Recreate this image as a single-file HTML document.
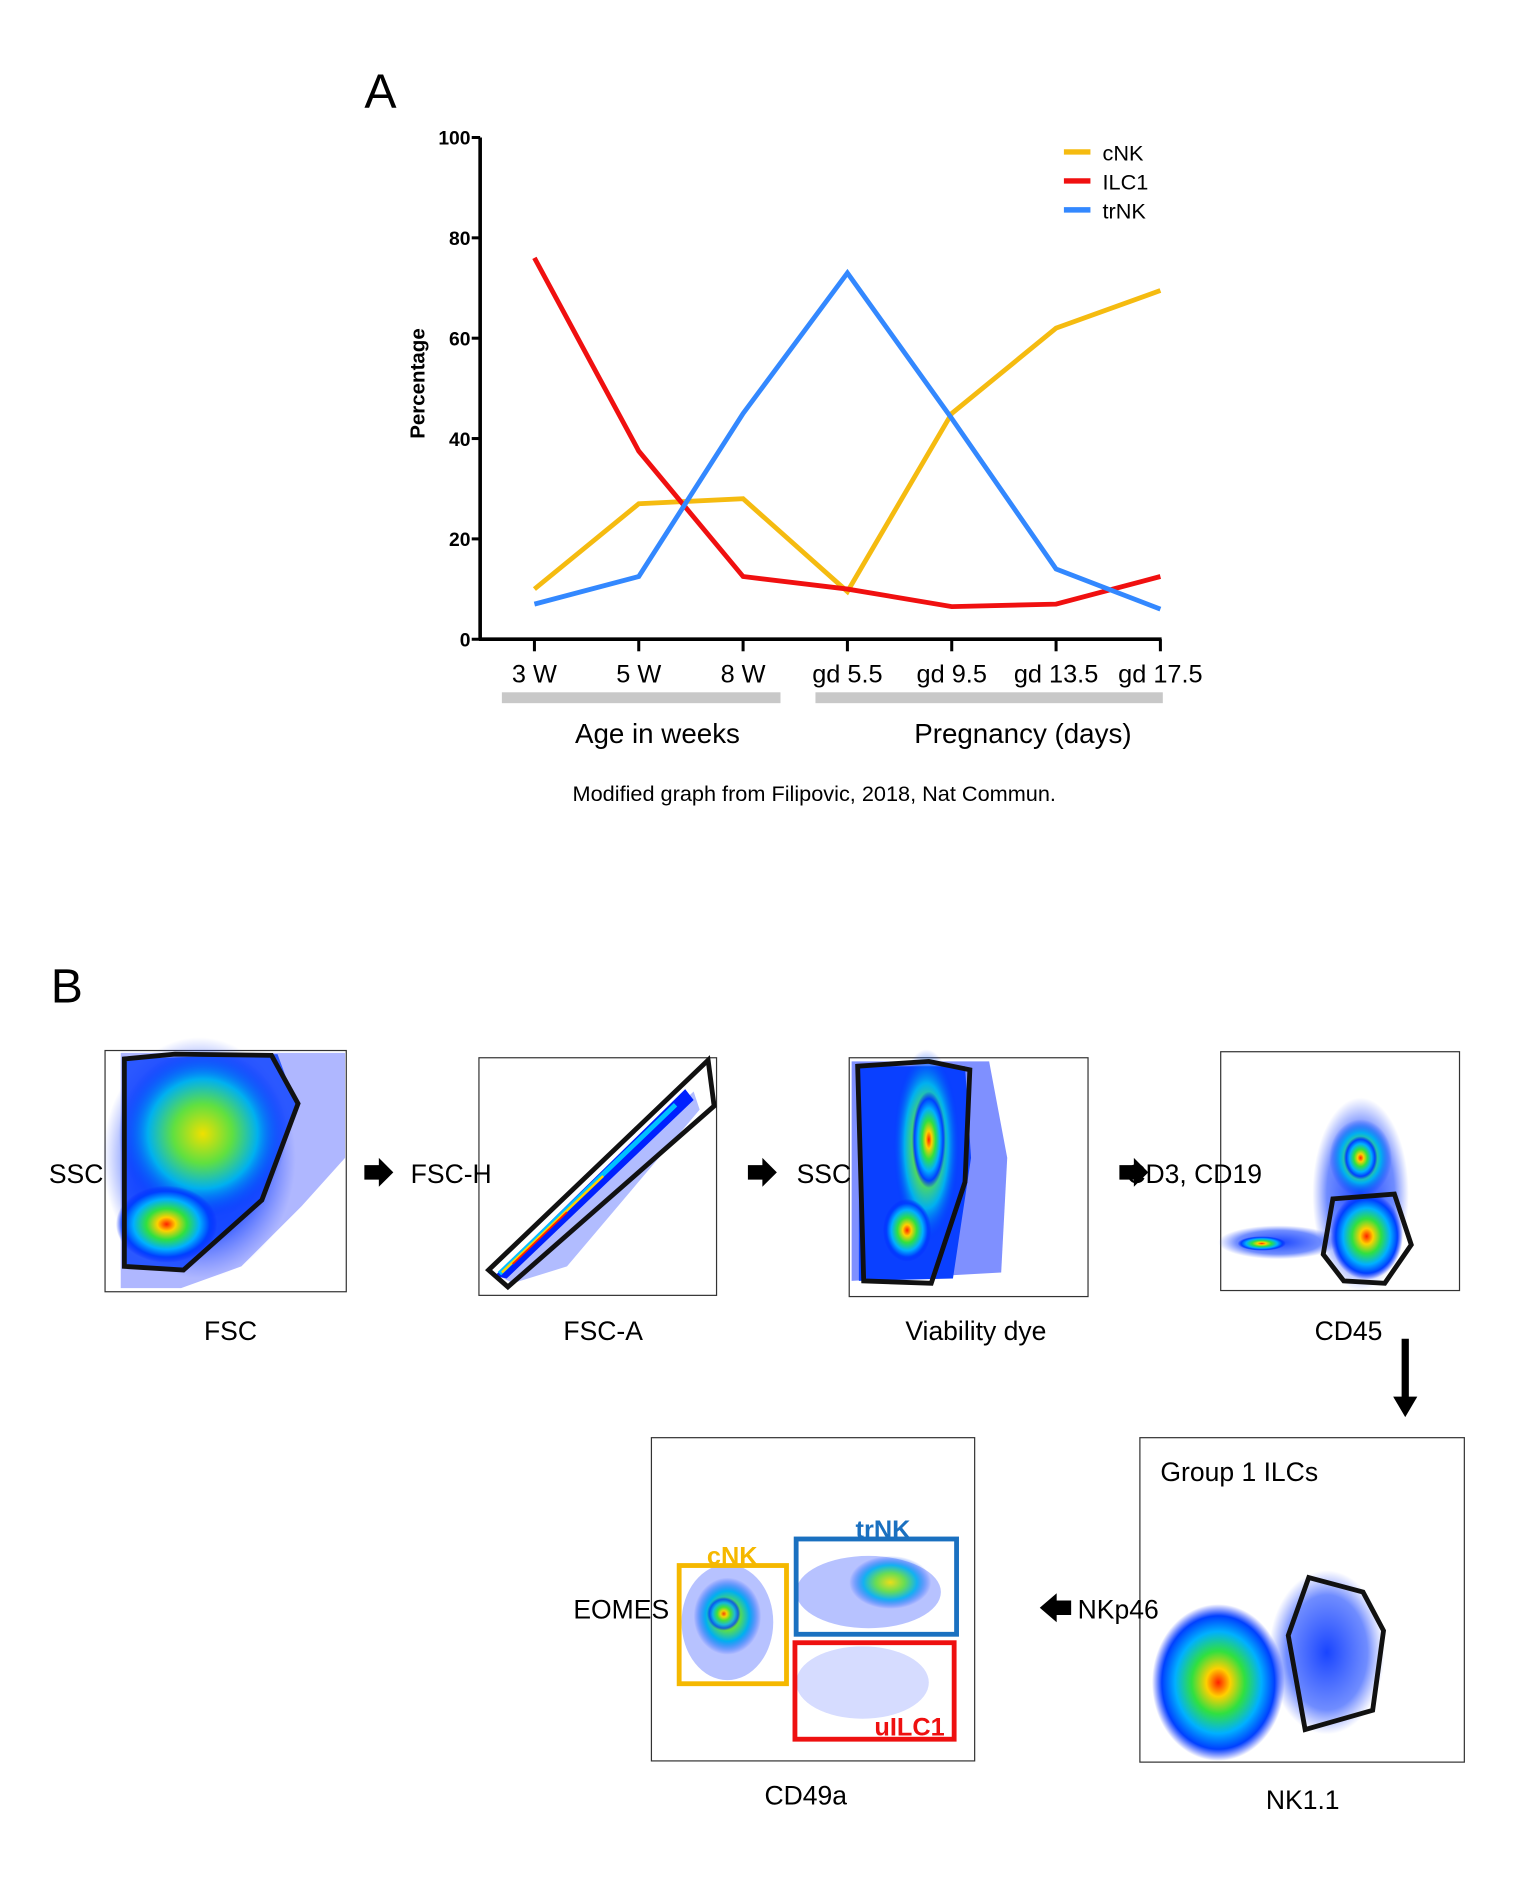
<!DOCTYPE html>
<html><head><meta charset="utf-8"><style>
html,body{margin:0;padding:0;background:#fff}
svg{display:block}
text{font-family:"Liberation Sans",sans-serif}
</style></head><body>
<svg id="fig" width="1532" height="1896" viewBox="0 0 1270 1572" xmlns="http://www.w3.org/2000/svg">
<defs>
<radialGradient id="heat">
<stop offset="0" stop-color="#ff2000"/>
<stop offset="0.18" stop-color="#ffd000"/>
<stop offset="0.4" stop-color="#30e040"/>
<stop offset="0.65" stop-color="#00b0ff"/>
<stop offset="0.85" stop-color="#0040ff"/>
<stop offset="1" stop-color="#0020ff" stop-opacity="0"/>
</radialGradient>
<radialGradient id="heatG">
<stop offset="0" stop-color="#f0e000"/>
<stop offset="0.35" stop-color="#60e040"/>
<stop offset="0.65" stop-color="#00b0f0"/>
<stop offset="1" stop-color="#0030ff" stop-opacity="0"/>
</radialGradient>
<radialGradient id="blueHaze">
<stop offset="0" stop-color="#0030ff" stop-opacity="0.9"/>
<stop offset="0.7" stop-color="#1040ff" stop-opacity="0.6"/>
<stop offset="1" stop-color="#3050ff" stop-opacity="0"/>
</radialGradient>
</defs>

<!-- Panel A -->
<text x="302" y="89" font-size="40">A</text>
<g id="chart"></g>

<!-- Panel B -->
<text x="42" y="831" font-size="40">B</text>

<!-- plot 1 -->
<g>
<rect x="87" y="871" width="200" height="200" fill="#fff" stroke="#333" stroke-width="1"/>
<path d="M100 873 L286 873 L286 960 L250 1000 L200 1050 L150 1068 L100 1068 Z" fill="#1a30ff" opacity="0.35"/>
<ellipse cx="165" cy="960" rx="80" ry="100" fill="url(#blueHaze)"/>
<path d="M103 878 L230 874 L245 915 L215 995 L155 1053 L103 1050 Z" fill="#0a40ff" opacity="0.8"/>
<ellipse cx="168" cy="940" rx="70" ry="70" fill="url(#heatG)"/>
<ellipse cx="138" cy="1015" rx="42" ry="32" fill="url(#heat)"/>
<polygon points="103,878 145,874 225,875 247,915 217,995 152,1053 103,1050" fill="none" stroke="#111" stroke-width="4"/>
</g>
<text x="63" y="981" font-size="22" text-anchor="middle">SSC</text>
<text x="191" y="1111" font-size="22" text-anchor="middle">FSC</text>
<polygon points="302,966 314,966 314,960 326,972 314,984 314,978 302,978" fill="#000"/>

<!-- plot 2 -->
<g>
<rect x="397" y="877" width="197" height="197" fill="#fff" stroke="#333" stroke-width="1"/>
<polygon points="412,1057 575,905 580,920 470,1050 425,1064" fill="#2040ff" opacity="0.35"/>
<polygon points="410,1058 568,903 575,912 420,1060" fill="#0020ff"/>
<line x1="414" y1="1056" x2="560" y2="916" stroke="#00c0ff" stroke-width="4"/>
<line x1="416" y1="1055" x2="500" y2="975" stroke="#ffd000" stroke-width="2"/>
<line x1="425" y1="1048" x2="470" y2="1005" stroke="#ff2000" stroke-width="1.5"/>
<polygon points="405,1053 587,879 592,917 421,1067" fill="none" stroke="#111" stroke-width="4"/>
</g>
<text x="374" y="981" font-size="22" text-anchor="middle">FSC-H</text>
<text x="500" y="1111" font-size="22" text-anchor="middle">FSC-A</text>
<polygon points="620,966 632,966 632,960 644,972 632,984 632,978 620,978" fill="#000"/>

<!-- plot 3 -->
<g>
<rect x="704" y="877" width="198" height="198" fill="#fff" stroke="#333" stroke-width="1"/>
<path d="M706 880 L820 880 L835 960 L830 1055 L706 1062 Z" fill="#1535ff" opacity="0.55"/>
<path d="M712 884 L800 884 L805 960 L790 1060 L712 1062 Z" fill="#0a40ff"/>
<ellipse cx="768" cy="950" rx="28" ry="80" fill="url(#heatG)"/>
<ellipse cx="770" cy="945" rx="14" ry="40" fill="url(#heat)"/>
<ellipse cx="752" cy="1020" rx="20" ry="26" fill="url(#heat)"/>
<polygon points="711,884 770,880 804,887 800,980 772,1064 716,1062" fill="none" stroke="#111" stroke-width="4"/>
</g>
<text x="683" y="981" font-size="22" text-anchor="middle">SSC</text>
<text x="809" y="1111" font-size="22" text-anchor="middle">Viability dye</text>
<polygon points="928,966 940,966 940,960 952,972 940,984 940,978 928,978" fill="#000"/>

<!-- plot 4 -->
<g>
<rect x="1012" y="872" width="198" height="198" fill="#fff" stroke="#333" stroke-width="1"/>
<ellipse cx="1128" cy="990" rx="40" ry="80" fill="url(#blueHaze)"/>
<ellipse cx="1060" cy="1030" rx="50" ry="14" fill="url(#blueHaze)"/>
<ellipse cx="1128" cy="960" rx="26" ry="32" fill="url(#heatG)"/>
<ellipse cx="1128" cy="960" rx="14" ry="18" fill="url(#heat)"/>
<ellipse cx="1133" cy="1025" rx="30" ry="36" fill="url(#heat)"/>
<ellipse cx="1046" cy="1031" rx="20" ry="6" fill="url(#heat)"/>
<polygon points="1105,994 1156,990 1170,1032 1148,1064 1114,1062 1097,1040" fill="none" stroke="#111" stroke-width="4"/>
</g>
<text x="990" y="981" font-size="22" text-anchor="middle">CD3, CD19</text>
<text x="1118" y="1111" font-size="22" text-anchor="middle">CD45</text>
<polygon points="1162,1110 1168,1110 1168,1158 1175,1158 1165,1175 1155,1158 1162,1158" fill="#000"/>

<!-- plot 6 (group 1 ILCs) -->
<g>
<rect x="945" y="1192" width="269" height="269" fill="#fff" stroke="#333" stroke-width="1"/>
<ellipse cx="1100" cy="1370" rx="48" ry="68" fill="url(#blueHaze)"/>
<ellipse cx="1010" cy="1395" rx="55" ry="65" fill="url(#heat)"/>
</g>
<polygon points="1085,1308 1130,1320 1147,1352 1138,1418 1082,1434 1068,1356" fill="none" stroke="#111" stroke-width="4"/>
<text x="962" y="1228" font-size="22">Group 1 ILCs</text>
<text x="1080" y="1500" font-size="22" text-anchor="middle">NK1.1</text>
<text x="927" y="1342" font-size="22" text-anchor="middle">NKp46</text>
<polygon points="888,1327 876,1327 876,1321 862,1333 876,1345 876,1339 888,1339" fill="#000"/>

<!-- plot 5 (EOMES vs CD49a) -->
<g>
<rect x="540" y="1192" width="268" height="268" fill="#fff" stroke="#333" stroke-width="1"/>
<ellipse cx="603" cy="1345" rx="38" ry="48" fill="#3050ff" opacity="0.35"/>
<ellipse cx="603" cy="1340" rx="28" ry="32" fill="url(#heatG)"/>
<ellipse cx="600" cy="1338" rx="14" ry="14" fill="url(#heat)" opacity="0.8"/>
<ellipse cx="720" cy="1320" rx="60" ry="30" fill="#3050ff" opacity="0.35"/>
<ellipse cx="738" cy="1312" rx="34" ry="22" fill="url(#heatG)" opacity="0.9"/>
<ellipse cx="715" cy="1395" rx="55" ry="30" fill="#3050ff" opacity="0.2"/>
<rect x="563" y="1298" width="89" height="98" fill="none" stroke="#f5b800" stroke-width="4"/>
<rect x="660" y="1276" width="133" height="79" fill="none" stroke="#1a70c0" stroke-width="4"/>
<rect x="659" y="1362" width="132" height="80" fill="none" stroke="#ee1010" stroke-width="4"/>
</g>
<text x="607" y="1297" font-size="21" font-weight="bold" fill="#f5b800" text-anchor="middle">cNK</text>
<text x="732" y="1275" font-size="21" font-weight="bold" fill="#1a70c0" text-anchor="middle">trNK</text>
<text x="754" y="1439" font-size="21" font-weight="bold" fill="#ee1010" text-anchor="middle">uILC1</text>
<text x="515" y="1342" font-size="22" text-anchor="middle">EOMES</text>
<text x="668" y="1496" font-size="22" text-anchor="middle">CD49a</text>
</svg>
<script>
const categories = ["3 W","5 W","8 W","gd 5.5","gd 9.5","gd 13.5","gd 17.5"];
const cNK = [10, 27, 28, 9.5, 45, 62, 69.5];
const ILC1 = [76, 37.5, 12.5, 10, 6.5, 7, 12.5];
const trNK = [7, 12.5, 45, 73, 44, 14, 6];
const yTicks = [0, 20, 40, 60, 80, 100];
const seriesNames = ["cNK","ILC1","trNK"];
const seriesColors = ["#f5bb10","#f01010","#3388ff"];

const NS = "http://www.w3.org/2000/svg";
const g = document.getElementById("chart");
const X0 = 443, XSTEP = 86.5, Y0 = 530, YSCALE = 4.16;
function xPos(i){ return X0 + i * XSTEP; }
function yPos(v){ return Y0 - v * YSCALE; }
function mk(tag, attrs, parent){
  const e = document.createElementNS(NS, tag);
  for (const k in attrs) e.setAttribute(k, attrs[k]);
  (parent || g).appendChild(e);
  return e;
}
// axes
let ax = mk("line", {x1:398, y1:yPos(100), x2:398, y2:Y0, stroke:"#000", "stroke-width":3});


ax = mk("line", {x1:397, y1:Y0, x2:xPos(categories.length-1)+1, y2:Y0, stroke:"#000", "stroke-width":3});


yTicks.forEach(v => {
  const t = mk("line", {x1:391, y1:yPos(v), x2:398, y2:yPos(v), stroke:"#000", "stroke-width":2.5});
  
  
  const l = mk("text", {x:390, y:yPos(v)+6, "font-size":16, "font-weight":"bold", "text-anchor":"end"});
  l.textContent = v;
  
  
});
categories.forEach((c, i) => {
  const t = mk("line", {x1:xPos(i), y1:Y0, x2:xPos(i), y2:Y0+10, stroke:"#000", "stroke-width":2.5});
  
  
  const l = mk("text", {x:xPos(i), y:Y0+36, "font-size":21, "text-anchor":"middle"});
  l.textContent = c;
  
  
});
let yl = mk("text", {x:0, y:0, "font-size":17, "font-weight":"bold", "text-anchor":"middle", transform:"translate(352,318) rotate(-90)"});
yl.textContent = "Percentage";


// group bars
let b = mk("rect", {x:416, y:574, width:231, height:9, fill:"#c8c8c8"});


b = mk("rect", {x:676, y:574, width:288, height:9, fill:"#c8c8c8"});


let gt = mk("text", {x:545, y:616, "font-size":23, "text-anchor":"middle"});
gt.textContent = "Age in weeks";


gt = mk("text", {x:848, y:616, "font-size":23, "text-anchor":"middle"});
gt.textContent = "Pregnancy (days)";


gt = mk("text", {x:675, y:664, "font-size":18, "text-anchor":"middle"});
gt.textContent = "Modified graph from Filipovic, 2018, Nat Commun.";


// series
[cNK, ILC1, trNK].forEach((s, k) => {
  const pts = s.map((v, i) => xPos(i) + "," + yPos(v)).join(" ");
  const p = mk("polyline", {points:pts, fill:"none", stroke:seriesColors[k], "stroke-width":4, "stroke-linejoin":"miter"});
  
  
  const ly = 126 + k * 24;
  const ll = mk("line", {x1:882, y1:ly, x2:904, y2:ly, stroke:seriesColors[k], "stroke-width":4.5});
  
  
  const lt = mk("text", {x:914, y:ly+7, "font-size":18});
  lt.textContent = seriesNames[k];
  
  
});
</script>
</body></html>
